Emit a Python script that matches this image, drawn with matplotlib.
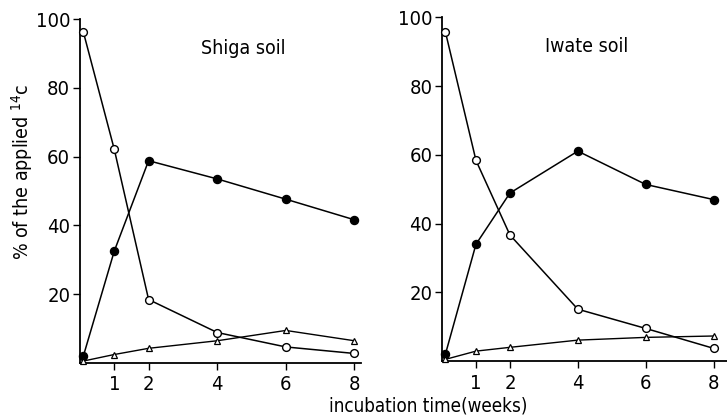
import matplotlib
matplotlib.use("Agg")
import matplotlib.pyplot as plt

plt.rcParams['font.family'] = ['DejaVu Sans']
plt.rcParams['font.stretch'] = 'condensed'

weeks = [0.1, 1, 2, 4, 6, 8]
xticks = [1, 2, 4, 6, 8]
yticks = [20, 40, 60, 80, 100]

shiga_open = [96.2, 62.1, 18.4, 8.8, 4.6, 2.7]
shiga_filled = [2.0, 32.5, 58.8, 53.5, 47.6, 41.6]
shiga_tri = [0.5, 2.4, 4.2, 6.4, 9.4, 6.4]

iwate_open = [95.8, 58.4, 36.7, 15.1, 9.5, 3.7]
iwate_filled = [2.0, 34.0, 48.9, 61.1, 51.4, 47.0]
iwate_tri = [0.5, 2.9, 4.0, 6.1, 6.9, 7.3]

fig = plt.figure(figsize=(7.27, 4.16), dpi=100)
ax1 = fig.add_axes([0.110, 0.128, 0.387, 0.826])
ax2 = fig.add_axes([0.608, 0.132, 0.383, 0.826])

panels = [(ax1, shiga_open, shiga_filled, shiga_tri, "Shiga soil", 0.58, 8.2),
          (ax2, iwate_open, iwate_filled, iwate_tri, "Iwate soil", 0.52, 8.4)]

for ax, op, fi, tr, title, tx, xmax in panels:
    ax.plot(weeks, op, color='black', lw=1.1, marker='o', ms=5.6,
            mfc='white', mec='black', mew=1.0, zorder=3, clip_on=False)
    ax.plot(weeks, fi, color='black', lw=1.1, marker='o', ms=5.8,
            mfc='black', mec='black', zorder=3, clip_on=False)
    ax.plot(weeks, tr, color='black', lw=1.0, marker='^', ms=4.6,
            mfc='white', mec='black', mew=0.9, zorder=3, clip_on=False)
    ax.set_xlim(0, 8.2)
    ax.set_ylim(0, 100)
    ax.set_xticks(xticks)
    ax.set_yticks(yticks)
    ax.tick_params(labelsize=14.5, length=5, width=1, direction='out')
    ax.tick_params(axis='x', pad=4)
    ax.tick_params(axis='y', pad=2)
    for s in ['top', 'right']:
        ax.spines[s].set_visible(False)
    for s in ['left', 'bottom']:
        ax.spines[s].set_linewidth(1.3)
    ax.spines['bottom'].set_bounds(0, xmax)
    ax.text(tx, 0.915, title, transform=ax.transAxes, fontsize=14, ha='center', va='center')

ax2.spines['bottom'].set_clip_on(False)
ax1.set_ylabel("% of the applied $^{14}$c", fontsize=14)
ax1.yaxis.set_label_coords(-0.16, 0.555)
fig.text(0.589, 0.025, "incubation time(weeks)", fontsize=13.5, ha='center', va='center')

fig.savefig("out.png", dpi=100)
